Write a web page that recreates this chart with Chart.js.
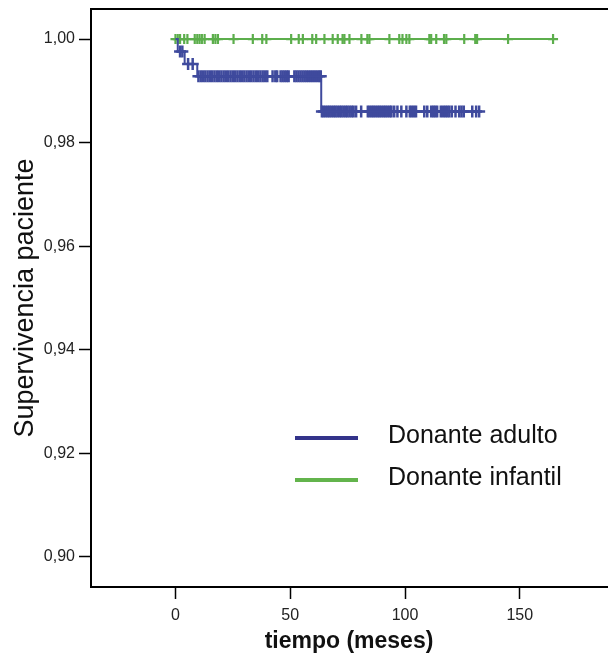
<!DOCTYPE html>
<html lang="es">
<head>
    <meta charset="UTF-8">
    <title>Supervivencia paciente</title>
    <script src="https://cdn.jsdelivr.net/npm/chart.js"></script>
    <style>
        body {
            margin: 0;
            padding: 0;
            background: #fff;
        }
        #wrap {
            width: 608px;
            height: 659px;
        }
    </style>
</head>
<body>
    <div id="wrap"><canvas id="kmChart" width="608" height="659"></canvas></div>

    <script>
        // Kaplan-Meier steps (months, survival)
        const adultTimes = [0, 1, 4, 9.5, 63.5, 132.3];
        const adultSurv = [1, 0.9976, 0.9952, 0.9928, 0.986, 0.986];
        const childTimes = [0, 164.5];
        const childSurv = [1, 1];

        // censored cases (months)
        const adultCensored = [2, 3, 5.5, 7.5,
            10, 11, 12, 13, 14, 15, 16, 17, 18, 19, 20, 21, 22, 23, 24, 25, 26, 27, 28, 29, 30,
            31, 32, 33, 34, 35, 36, 37, 38, 39, 40, 42.3, 43.5, 44.3, 45.8, 46.7, 47.6, 48.5, 49.3,
            51.8, 52.7, 53.6, 54.5, 55.4, 56.3, 57.2, 58.1, 59, 59.9, 60.8, 61.7, 62.6, 63.3,
            63.8, 64.6, 65.5, 66.4, 67.2, 68.1, 69, 69.8, 70.7, 71.6, 72.4, 73.3, 74.2, 75, 75.9,
            76.8, 77.6, 78.7, 80.9, 83.8, 84.7, 85.6, 86.4, 87.3, 88.2, 89, 89.9, 90.8, 91.6, 92.5,
            93.4, 94.1, 95.3, 96.7, 98.4, 100.6, 102.1, 103, 103.9, 104.8, 108.4, 109.7, 111.4,
            112.3, 113.1, 114, 115.6, 116.6, 117.5, 118.4, 119.3, 120.4, 122, 123.6, 124.6, 125.6,
            129.3, 131, 132.3];
        const childCensored = [0, 1, 2, 3.8, 5.2, 8.4, 9.5, 10.5, 11.5, 12.7, 16.3, 17.4, 18.5,
            25.3, 33.7, 37.8, 39.6, 50.4, 53.7, 55.5, 59.6, 61.3, 64.9, 68.5, 70.7, 72.8, 73.6,
            75.8, 81, 83.6, 84.5, 93.2, 97.5, 98.9, 100.6, 101.9, 110.6, 111.4, 113.6, 117, 118,
            125.8, 130.6, 131.4, 144.9, 164.5];

        const seriesNames = ['Donante adulto', 'Donante infantil'];
        const xTicks = [0, 50, 100, 150];
        const yTicks = [0.90, 0.92, 0.94, 0.96, 0.98, 1.00];

        const blue = '#3f4a9d';
        const green = '#5cae4c';

        function survAt(times, surv, t) {
            let s = surv[0];
            for (let i = 0; i < times.length; i++) {
                if (times[i] <= t) s = surv[i];
            }
            return s;
        }

        function toPoints(times, surv) {
            return times.map((t, i) => ({ x: t, y: surv[i] }));
        }

        function censorPoints(list, times, surv) {
            return list.map(t => ({ x: t, y: survAt(times, surv, t) }));
        }

        // top frame line + legend drawn on the canvas
        const framePlugin = {
            id: 'frame',
            afterDraw(chart) {
                const ctx = chart.ctx;
                const a = chart.chartArea;
                ctx.save();
                ctx.strokeStyle = '#000';
                ctx.lineWidth = 2;
                ctx.beginPath();
                ctx.moveTo(a.left - 1, a.top);
                ctx.lineTo(a.right + 1, a.top);
                ctx.stroke();

                const legendColors = ['#33338a', '#63b44c'];
                const rows = [436, 478];
                ctx.font = '25px "Liberation Sans", Arial, sans-serif';
                ctx.textBaseline = 'middle';
                ctx.fillStyle = '#111';
                seriesNames.forEach((name, i) => {
                    ctx.strokeStyle = legendColors[i];
                    ctx.lineWidth = 4;
                    ctx.beginPath();
                    ctx.moveTo(295, rows[i] + 2);
                    ctx.lineTo(358, rows[i] + 2);
                    ctx.stroke();
                    ctx.fillText(name, 388, rows[i]);
                });
                ctx.restore();
            }
        };

        new Chart(document.getElementById('kmChart'), {
            type: 'scatter',
            data: {
                datasets: [
                    {
                        label: seriesNames[0],
                        data: toPoints(adultTimes, adultSurv),
                        showLine: true,
                        stepped: 'before',
                        borderColor: blue,
                        borderWidth: 2,
                        pointRadius: 0
                    },
                    {
                        label: seriesNames[0] + ' censurado',
                        data: censorPoints(adultCensored, adultTimes, adultSurv),
                        showLine: false,
                        pointStyle: 'cross',
                        pointRadius: 6,
                        borderColor: blue,
                        borderWidth: 2.5
                    },
                    {
                        label: seriesNames[1],
                        data: toPoints(childTimes, childSurv),
                        showLine: true,
                        stepped: 'before',
                        borderColor: green,
                        borderWidth: 2,
                        pointRadius: 0
                    },
                    {
                        label: seriesNames[1] + ' censurado',
                        data: censorPoints(childCensored, childTimes, childSurv),
                        showLine: false,
                        pointStyle: 'cross',
                        pointRadius: 5,
                        borderColor: green,
                        borderWidth: 2.2
                    }
                ]
            },
            options: {
                responsive: false,
                animation: false,
                layout: { autoPadding: false, padding: { top: 9, right: 1, left: 0, bottom: 0 } },
                plugins: {
                    legend: { display: false },
                    tooltip: { enabled: false }
                },
                scales: {
                    x: {
                        type: 'linear',
                        min: -36.8,
                        max: 188,
                        afterBuildTicks: s => { s.ticks = xTicks.map(v => ({ value: v })); },
                        afterFit: s => {
                            s.height = 72;
                            s.paddingLeft = 0;
                            s.paddingRight = 0;
                        },
                        grid: { drawOnChartArea: false, tickLength: 12, tickColor: '#000', tickWidth: 1.5 },
                        border: { display: true, color: '#000', width: 2 },
                        ticks: {
                            padding: 7,
                            color: '#222',
                            font: { family: '"Liberation Sans", Arial, sans-serif', size: 16 }
                        },
                        title: {
                            display: true,
                            text: 'tiempo (meses)',
                            color: '#111',
                            padding: { top: 0, bottom: 4 },
                            font: { family: '"Liberation Sans", Arial, sans-serif', size: 23, weight: 'bold' }
                        }
                    },
                    y: {
                        type: 'linear',
                        min: 0.8942,
                        max: 1.0058,
                        afterBuildTicks: s => { s.ticks = yTicks.map(v => ({ value: v })); },
                        afterFit: s => {
                            s.width = 91;
                            s.paddingTop = 0;
                            s.paddingBottom = 0;
                        },
                        grid: { drawOnChartArea: false, tickLength: 12, tickColor: '#000', tickWidth: 1.5 },
                        border: { display: true, color: '#000', width: 2 },
                        ticks: {
                            padding: 4,
                            color: '#222',
                            font: { family: '"Liberation Sans", Arial, sans-serif', size: 16 },
                            callback: v => v.toFixed(2).replace('.', ',')
                        },
                        title: {
                            display: true,
                            text: 'Supervivencia paciente',
                            color: '#111',
                            padding: { top: 9, bottom: 0 },
                            font: { family: '"Liberation Sans", Arial, sans-serif', size: 27 }
                        }
                    }
                }
            },
            plugins: [framePlugin]
        });
    </script>
</body>
</html>
